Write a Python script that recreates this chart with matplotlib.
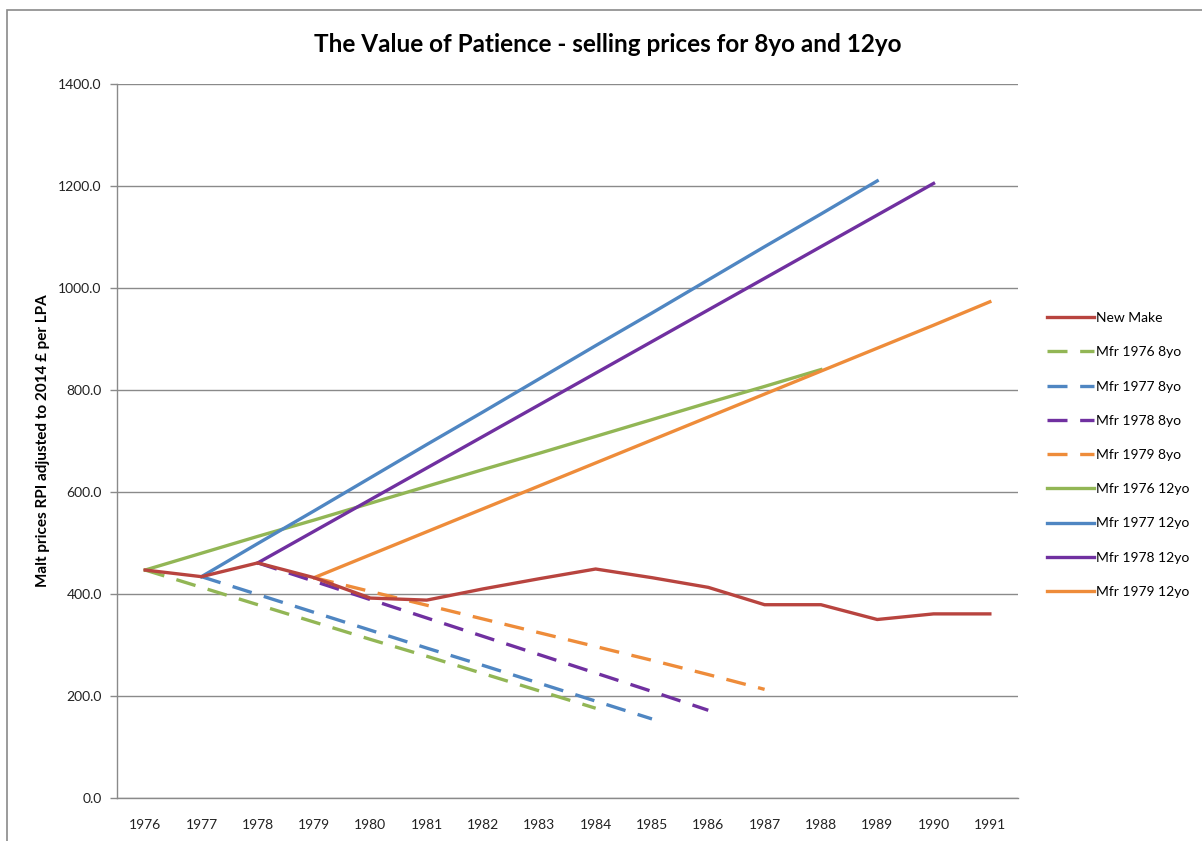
import matplotlib.pyplot as plt
from matplotlib.patches import Rectangle

plt.rcParams['font.family'] = ['Lato', 'DejaVu Sans']

# Годы по оси x
years = ['1976', '1977', '1978', '1979', '1980', '1981', '1982', '1983',
         '1984', '1985', '1986', '1987', '1988', '1989', '1990', '1991']

# New Make, цены за каждый год
new_make = [447, 434, 461, 432, 392, 388, 410, 430, 449, 432, 413, 379, 379, 350, 361, 361]

# 8yo: от цены new make в год производства до продажи через 8 лет
mfr76_8 = [447, 413, 379, 345, 311, 278, 244, 210, 176]
mfr77_8 = [434, 399, 364, 329, 294, 260, 225, 190, 155]
mfr78_8 = [461, 425, 389, 353, 317, 281, 245, 209, 172]
mfr79_8 = [432, 405, 378, 351, 324, 297, 270, 242, 213]

# 12yo: рост до продажи через 12 лет
mfr76_12 = [447, 480, 513, 545, 578, 611, 644, 676, 709, 742, 775, 807, 840]
mfr77_12 = [434, 499, 563, 628, 693, 757, 822, 887, 951, 1016, 1081, 1145, 1210]
mfr78_12 = [461, 523, 585, 647, 709, 771, 833, 895, 957, 1019, 1081, 1143, 1205]
mfr79_12 = [432, 477, 522, 567, 612, 657, 702, 747, 792, 837, 882, 927, 973]

red = '#B8443F'
green = '#92B655'
blue = '#4F86C2'
purple = '#7030A0'
orange = '#EE8C3A'

fig = plt.figure(figsize=(12.02, 8.41), dpi=100)
ax = fig.add_axes([117 / 1202, 1 - 798 / 841, (1018 - 117) / 1202, (798 - 84) / 841])

x = list(range(len(years)))
lw = 2.4
dash = (0, (6.0, 3.8))

ax.plot(x, new_make, color=red, lw=lw, label='New Make', zorder=5)
ax.plot(x[0:9], mfr76_8, color=green, lw=lw, ls=dash, label='Mfr 1976 8yo')
ax.plot(x[1:10], mfr77_8, color=blue, lw=lw, ls=dash, label='Mfr 1977 8yo')
ax.plot(x[2:11], mfr78_8, color=purple, lw=lw, ls=dash, label='Mfr 1978 8yo')
ax.plot(x[3:12], mfr79_8, color=orange, lw=lw, ls=dash, label='Mfr 1979 8yo')
ax.plot(x[0:13], mfr76_12, color=green, lw=lw, label='Mfr 1976 12yo')
ax.plot(x[1:14], mfr77_12, color=blue, lw=lw, label='Mfr 1977 12yo')
ax.plot(x[2:15], mfr78_12, color=purple, lw=lw, label='Mfr 1978 12yo')
ax.plot(x[3:16], mfr79_12, color=orange, lw=lw, label='Mfr 1979 12yo')

ax.set_xlim(-0.5, len(years) - 0.5)
ax.set_ylim(0, 1400)
ax.set_xticks(x)
ax.set_xticklabels(years)
ax.set_yticks(range(0, 1401, 200))
ax.set_yticklabels([f'{v:.1f}' for v in range(0, 1401, 200)])
ax.tick_params(axis='x', length=0, pad=15, labelsize=10, colors='#222222')
ax.tick_params(axis='y', length=5, width=1, color='#8a8a8a', pad=6, labelsize=10, labelcolor='#222222')

ax.grid(axis='y', color='#8a8a8a', lw=1)
ax.set_axisbelow(True)
for s in ['top', 'right']:
    ax.spines[s].set_visible(False)
for s in ['left', 'bottom']:
    ax.spines[s].set_color('#8a8a8a')
    ax.spines[s].set_linewidth(1)

ax.set_ylabel('Malt prices RPI adjusted to 2014 £ per LPA', fontsize=11, fontweight='bold', labelpad=6)
fig.text(608 / 1202, 1 - 45 / 841, 'The Value of Patience - selling prices for 8yo and 12yo',
         ha='center', va='center', fontsize=17.5, fontweight='bold')

fig.legend(loc='center left', bbox_to_anchor=(1040 / 1202, 1 - 455 / 841), frameon=False,
           fontsize=10, labelspacing=1.6, handlelength=3.4, handletextpad=0.1, borderpad=0)

# Рамка вокруг диаграммы
fig.add_artist(Rectangle((7 / 1202, -0.1), 1.2, 1.1 - 10 / 841, transform=fig.transFigure,
                         fill=False, edgecolor='#8a8a8a', lw=1.2, clip_on=False))

plt.savefig('out.png', dpi=100)
